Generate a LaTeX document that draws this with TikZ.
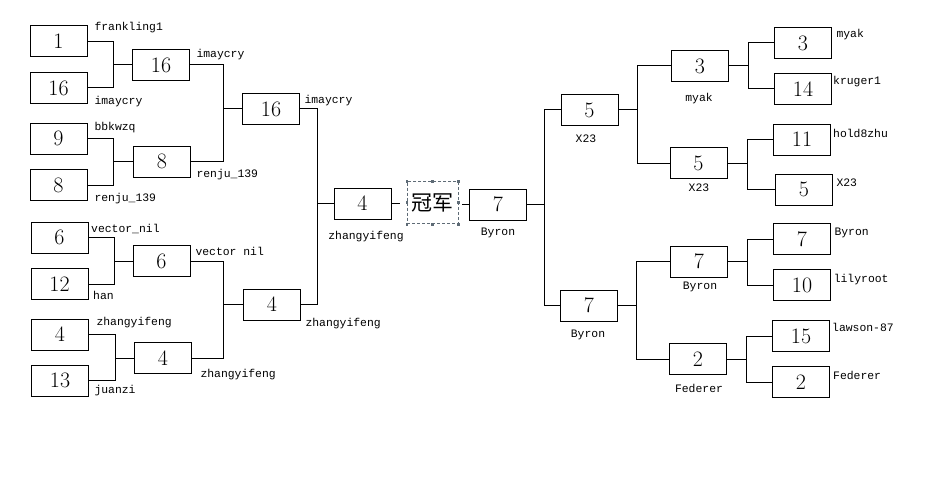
\documentclass[tikz,border=0pt]{standalone}
\usepackage{fontspec}
\newfontfamily\monof{Liberation Mono}
\newfontfamily\cjkf{Noto Sans CJK SC}
\begin{document}
\begin{tikzpicture}[x=1pt,y=-1pt, line width=1pt,
  sbox/.style={draw, minimum width=57pt, minimum height=31pt, inner sep=0pt, font=\fontsize{22}{22}\selectfont},
  nm/.style={font=\monof\fontsize{11.4}{12}\selectfont, inner sep=0pt},
  nmw/.style={nm, anchor=mid west},
  nmc/.style={nm, anchor=mid},
  champ/.style={draw=handlegray, dash pattern=on 3pt off 2pt, line width=0.8pt, minimum width=51pt, minimum height=42pt, inner sep=0pt, font=\cjkf\fontsize{21}{21}\selectfont}
]
\definecolor{handlegray}{HTML}{5E6B76}
\useasboundingbox[fill=white] (0,0) rectangle (938,503);

% ---------- left round 1
\node[sbox] (a1) at (58.5,41.5) {1};
\node[sbox] (a2) at (58.5,88) {16};
\node[sbox] (a3) at (58.5,138.5) {9};
\node[sbox] (a4) at (58.5,185) {8};
\node[sbox] (a5) at (59.5,237.5) {6};
\node[sbox] (a6) at (59.5,284) {12};
\node[sbox] (a7) at (60,334.5) {4};
\node[sbox] (a8) at (60,380.5) {13};
% ---------- left round 2
\node[sbox] (b1) at (161,65) {16};
\node[sbox] (b2) at (162,161.5) {8};
\node[sbox] (b3) at (161.5,261) {6};
\node[sbox] (b4) at (163,358) {4};
% ---------- left round 3
\node[sbox] (c1) at (271,109) {16};
\node[sbox] (c2) at (272,304.5) {4};
% ---------- final
\node[sbox] (f4) at (362.5,203.5) {4};
\node[champ] (ch) at (432.8,202.7) {冠军};
\node[sbox] (f7) at (498,204.5) {7};
% ---------- right round 3
\node[sbox] (r3a) at (589.5,110) {5};
\node[sbox] (r3b) at (589,305.5) {7};
% ---------- right round 2
\node[sbox] (r2a) at (700,66) {3};
\node[sbox] (r2b) at (698.5,163) {5};
\node[sbox] (r2c) at (699,261.5) {7};
\node[sbox] (r2d) at (698,359) {2};
% ---------- right round 1
\node[sbox] (r1a) at (803,43) {3};
\node[sbox] (r1b) at (803,89) {14};
\node[sbox] (r1c) at (802,139.5) {11};
\node[sbox] (r1d) at (804,189.5) {5};
\node[sbox] (r1e) at (802,239) {7};
\node[sbox] (r1f) at (802,285) {10};
\node[sbox] (r1g) at (801,336) {15};
\node[sbox] (r1h) at (801,382) {2};

% champ handles
\foreach \a in {north west,north,north east,east,south east,south,south west,west}
  \fill[handlegray] ([shift={(-1.4,-1.4)}]ch.\a) rectangle ++(2.8,2.8);

% ---------- connectors left
\draw (a1.east) -- ++(26,0) coordinate (ja) |- (a2.east);
\draw (ja |- b1.west) -- (b1.west);
\draw (a3.east) -- ++(26,0) coordinate (jb) |- (a4.east);
\draw (jb |- b2.west) -- (b2.west);
\draw (a5.east) -- ++(26,0) coordinate (jc) |- (a6.east);
\draw (jc |- b3.west) -- (b3.west);
\draw (a7.east) -- ++(26,0) coordinate (jd) |- (a8.east);
\draw (jd |- b4.west) -- (b4.west);
\draw (b1.east) -- ++(33,0) coordinate (je) |- (b2.east);
\draw (je |- c1.west) -- (c1.west);
\draw (b3.east) -- ++(33,0) coordinate (jf) |- (b4.east);
\draw (jf |- c2.west) -- (c2.west);
\draw (c1.east) -- ++(17,0) coordinate (jg) |- (c2.east);
\draw (jg |- f4.west) -- (f4.west);
% ---------- final connectors
\draw[shorten >=7pt] (f4.east) -- (f4.east -| ch.west);
\draw[shorten <=3.5pt] (ch.east |- f7.west) -- (f7.west);
% ---------- connectors right
\draw (r3a.west) -- ++(-16.5,0) coordinate (jh) |- (r3b.west);
\draw (f7.east) -- (f7.east -| jh);
\draw (r2a.west) -- ++(-33.5,0) coordinate (ji) |- (r2b.west);
\draw (r3a.east) -- (r3a.east -| ji);
\draw (r2c.west) -- ++(-33.5,0) coordinate (jj) |- (r2d.west);
\draw (r3b.east) -- (r3b.east -| jj);
\draw (r1a.west) -- ++(-26,0) coordinate (jk) |- (r1b.west);
\draw (r2a.east) -- (r2a.east -| jk);
\draw (r1c.west) -- ++(-26,0) coordinate (jl) |- (r1d.west);
\draw (r2b.east) -- (r2b.east -| jl);
\draw (r1e.west) -- ++(-26,0) coordinate (jm) |- (r1f.west);
\draw (r2c.east) -- (r2c.east -| jm);
\draw (r1g.west) -- ++(-26,0) coordinate (jn) |- (r1h.west);
\draw (r2d.east) -- (r2d.east -| jn);

% ---------- labels left
\node[nmw] (la1) at (94,28) {frankling1};
\node[nmw] (la2) at (94,102) {imaycry};
\node[nmw] (la3) at (94,128) {bbkwzq};
\node[nmw] (la4) at (94,199) {renju\_139};
\node[nmw] (la5) at (90.7,230) {vector\_nil};
\node[nmw] (la6) at (92.7,297) {han};
\node[nmw] (la7) at (96,323) {zhangyifeng};
\node[nmw] (la8) at (94,391) {juanzi};
\node[nmw] (lb1) at (196,55) {imaycry};
\node[nmw] (lb2) at (196,175) {renju\_139};
\node[nmw] (lb3) at (195,253) {vector nil};
\node[nmw] (lb4) at (200,375) {zhangyifeng};
\node[nmw] (lc1) at (304,101) {imaycry};
\node[nmw] (lc2) at (305,324) {zhangyifeng};
\node[nmc] (lf4) at (366,237) {zhangyifeng};
\node[nmc] (lf7) at (498,233) {Byron};
% ---------- labels right
\node[nmc] (lr3a) at (586,140) {X23};
\node[nmc] (lr3b) at (588,335) {Byron};
\node[nmc] (lr2a) at (699,99) {myak};
\node[nmc] (lr2b) at (699,189) {X23};
\node[nmc] (lr2c) at (700,287) {Byron};
\node[nmc] (lr2d) at (699,390) {Federer};
\node[nmw] (lr1a) at (836,35) {myak};
\node[nmw] (lr1b) at (832.7,82.7) {kruger1};
\node[nmw] (lr1c) at (832.7,135) {hold8zhu};
\node[nmw] (lr1d) at (836,184) {X23};
\node[nmw] (lr1e) at (834,233) {Byron};
\node[nmw] (lr1f) at (833.3,280) {lilyroot};
\node[nmw] (lr1g) at (831.7,329) {lawson-87};
\node[nmw] (lr1h) at (832.7,377) {Federer};
\end{tikzpicture}
\end{document}
